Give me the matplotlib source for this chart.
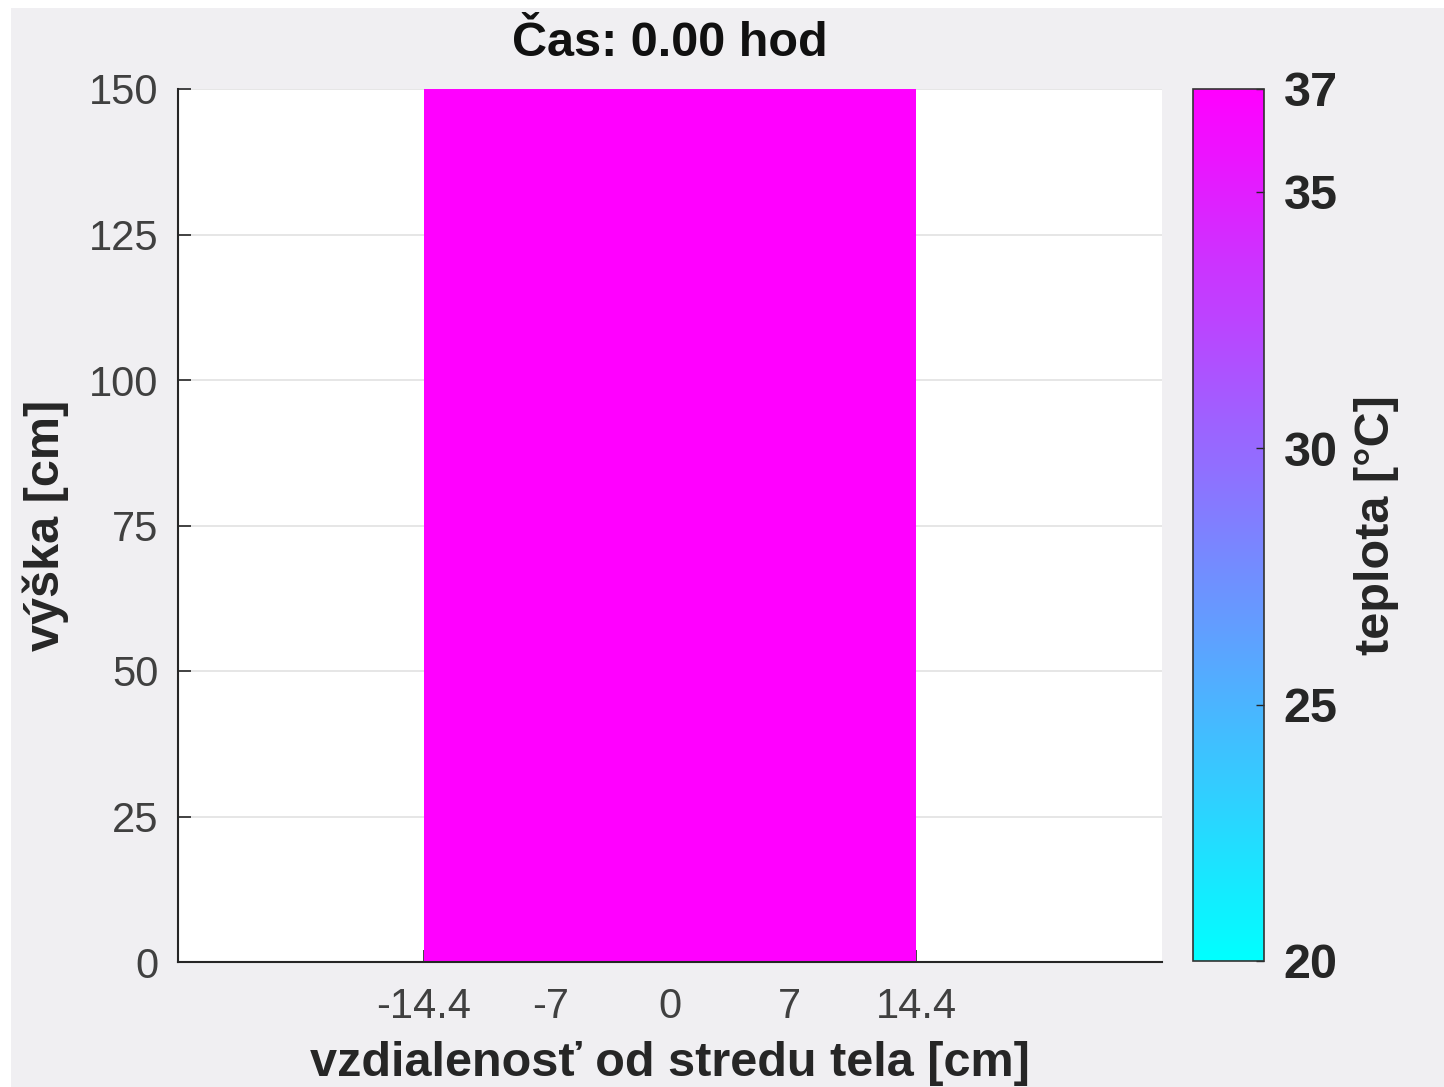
import numpy as np
import matplotlib
matplotlib.use("Agg")
import matplotlib.pyplot as plt
from matplotlib.patches import Rectangle

plt.rcParams['font.family'] = ['Liberation Sans', 'DejaVu Sans']

# Data
x_edges = [-14.4, -7, 0, 7, 14.4]          # body cross-section [cm]
y_edges = [0, 25, 50, 75, 100, 125, 150]   # height [cm]
temperature = [[37, 37, 37, 37]] * 6       # temperature at t = 0 h [°C]
x_ticks = [-14.4, -7, 0, 7, 14.4]
x_ticklabels = ['-14.4', '-7', '0', '7', '14.4']
y_ticks = [0, 25, 50, 75, 100, 125, 150]
cbar_ticks = [20, 25, 30, 35, 37]
t_min, t_max = 20, 37
title = 'Čas: 0.00 hod'

W, H = 1444, 1087
fig = plt.figure(figsize=(W / 100, H / 100), dpi=100)
bg = '#f0eff2'
fig.patch.set_facecolor('white')
fig.patches.append(Rectangle((11 / W, 0), 1 - 11 / W, 1 - 8 / H, transform=fig.transFigure,
                             facecolor=bg, edgecolor='none', zorder=-10))

ax = fig.add_axes([178 / W, 1 - 962 / H, 984 / W, 873 / H])
ax.set_facecolor('white')
mesh = ax.pcolormesh(x_edges, y_edges, np.array(temperature), cmap='cool',
                     vmin=t_min, vmax=t_max, shading='flat', zorder=2)
ax.set_xlim(-28.75, 28.75)
ax.set_ylim(0, 150)
ax.set_xticks(x_ticks)
ax.set_xticklabels(x_ticklabels)
ax.set_yticks(y_ticks)
ax.yaxis.grid(True, color='#e2e2e2', linewidth=1.2, zorder=0)
ax.set_axisbelow(True)
for s in ['top', 'right']:
    ax.spines[s].set_visible(False)
for s in ['left', 'bottom']:
    ax.spines[s].set_color('#262626')
    ax.spines[s].set_linewidth(1.5)
    ax.spines[s].set_zorder(3)
ax.tick_params(direction='in', length=9, width=1.2, colors='#262626',
               labelsize=30, labelcolor='#404040')
ax.tick_params(axis='x', pad=18)
ax.tick_params(axis='y', pad=14)
ax.set_xlabel('vzdialenosť od stredu tela [cm]', fontsize=35, fontweight='bold',
              color='#262626', labelpad=10)
ax.set_ylabel('výška [cm]', fontsize=35, fontweight='bold', color='#262626', labelpad=14)
ax.set_title(title, fontsize=35, fontweight='bold', color='#111111', pad=24)

cax = fig.add_axes([1193 / W, 1 - 961 / H, 71 / W, 872 / H])
cb = fig.colorbar(mesh, cax=cax, ticks=cbar_ticks)
cb.outline.set_edgecolor('#333333')
cb.outline.set_linewidth(1.2)
cax.tick_params(direction='in', length=6, width=1, colors='#262626',
                labelsize=35, pad=14)
for lbl in cax.get_yticklabels():
    lbl.set_fontweight('bold')
    lbl.set_color('#262626')
cb.set_label('teplota [°C]', fontsize=35, fontweight='bold', color='#262626',
             labelpad=12)

fig.savefig('out.png', dpi=100, facecolor=fig.get_facecolor())
